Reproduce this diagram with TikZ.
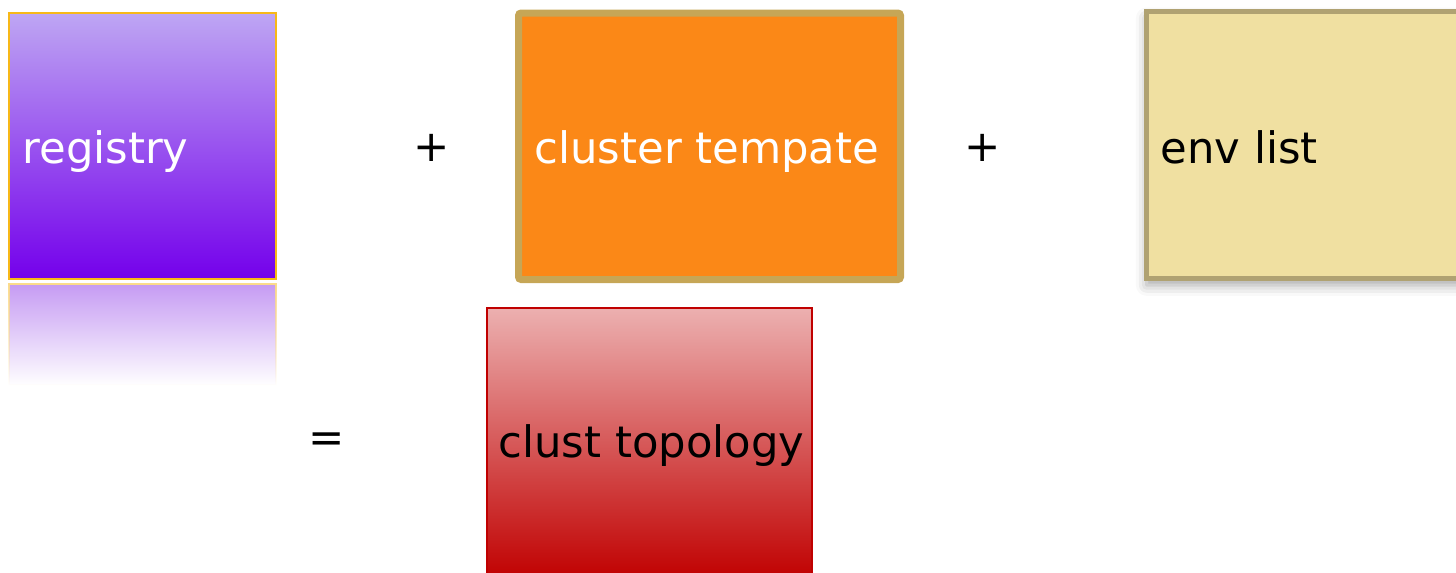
\documentclass[tikz,border=0pt]{standalone}
\usepackage{fontspec}
\setmainfont{DejaVu Sans}
\usetikzlibrary{shadows.blur,fadings}

\definecolor{regtop}{HTML}{BEA6F3}
\definecolor{regbot}{HTML}{7400EB}
\definecolor{regborder}{HTML}{F7B818}
\definecolor{refltop}{HTML}{C59AF3}
\definecolor{clusterfill}{HTML}{FB8817}
\definecolor{clusterborder}{HTML}{C6A656}
\definecolor{envfill}{HTML}{F0E0A1}
\definecolor{envborder}{HTML}{B0A272}
\definecolor{topotop}{HTML}{ECB0B0}
\definecolor{topobot}{HTML}{C00000}

\tikzfading[name=reflfade, top color=transparent!0, bottom color=transparent!100]

\tikzset{every picture/.style={line width=0.75pt}}
\tikzset{
  boxtext/.style={anchor=base west, inner sep=0pt, font=\fontsize{32.5}{38}\selectfont},
  optext/.style={anchor=center, inner sep=0pt, font=\fontsize{32.5}{38}\selectfont},
}

\begin{document}
\begin{tikzpicture}[x=0.75pt,y=0.75pt,yscale=-1,xscale=1]
\useasboundingbox (0,0) rectangle (1456,572);
\clip (0,0) rectangle (1456,572);

% Registry box
\node [draw=regborder, line width=1.5pt, top color=regtop, bottom color=regbot, minimum width=200.25pt, minimum height=199.5pt, inner sep=0pt] (registry) at (142.5,146) {};
% Registry reflection
\node [draw=regborder!50, line width=1.5pt, fill=refltop, path fading=reflfade, minimum width=200.25pt, minimum height=75.75pt, inner sep=0pt] (reflection) at (142.5,334.5) {};
% Cluster template box
\node [draw=clusterborder, line width=5.25pt, fill=clusterfill, rounded corners=2pt, minimum width=286.5pt, minimum height=199.875pt, inner sep=0pt] (cluster) at (709.5,146.25) {};
% Env list box
\node [draw=envborder, line width=3.75pt, fill=envfill, blur shadow={shadow xshift=0pt, shadow yshift=-5pt, shadow blur radius=8pt, shadow opacity=35}, minimum width=242.6pt, minimum height=200.25pt, inner sep=0pt] (envlist) at (1308.25,145) {};
% Cluster topology box
\node [draw=topobot, line width=1.5pt, top color=topotop, bottom color=topobot, minimum width=243.75pt, minimum height=204pt, inner sep=0pt] (topology) at (649.5,444) {};

% Text Node
\node [boxtext, text=white] (registrytxt) at (22,163) {registry};
% Text Node
\node [boxtext, text=white] (clustertxt) at (534,163) {cluster tempate};
% Text Node
\node [boxtext] (envtxt) at (1160,163) {env list};
% Text Node
\node [boxtext] (topotxt) at (498,457) {clust topology};
% Text Node
\node [optext] (plusone) at (432,148) {+};
% Text Node
\node [optext] (plustwo) at (983,148) {+};
% Text Node
\node [optext] (equals) at (327,443) {=};

\end{tikzpicture}
\end{document}
